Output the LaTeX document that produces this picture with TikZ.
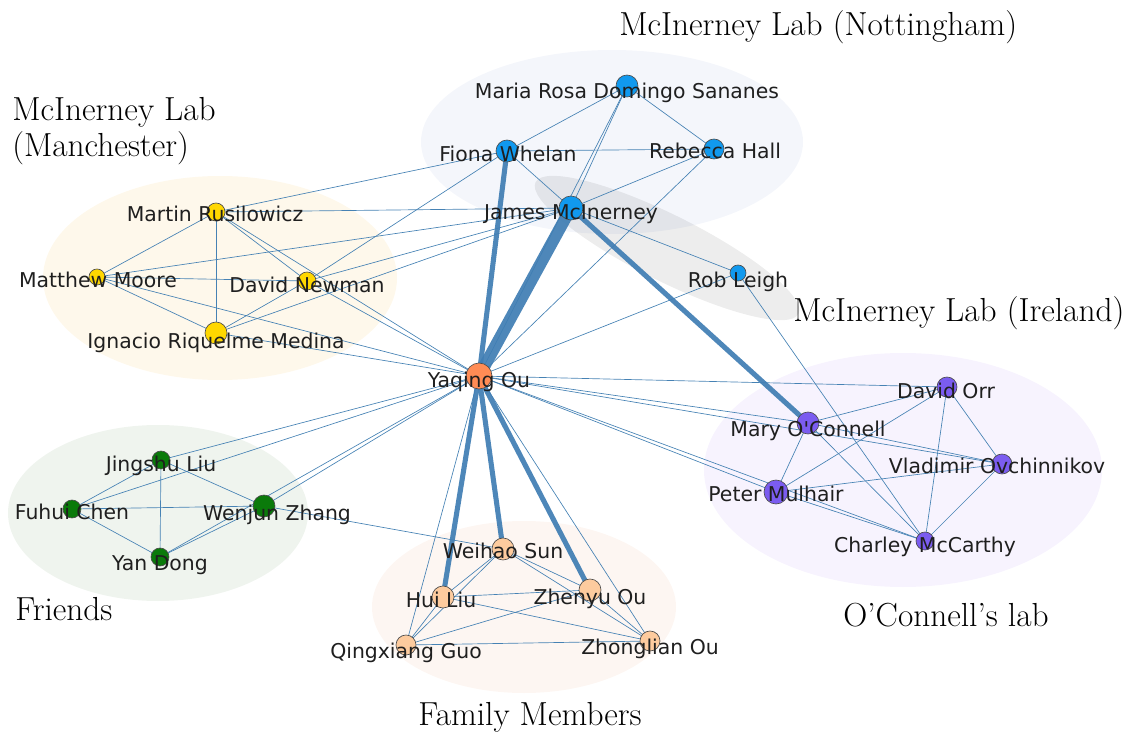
\documentclass[tikz,border=0pt]{standalone}
\usepackage{fontspec}
\newfontfamily\lblfont{DejaVu Sans}
\definecolor{edgec}{HTML}{4682B4}
\definecolor{thickc}{HTML}{3F7DB3}
\definecolor{nblue}{HTML}{1199EE}
\definecolor{nyellow}{HTML}{FFD700}
\definecolor{norange}{HTML}{FF8C55}
\definecolor{ngreen}{HTML}{0A7A0A}
\definecolor{npeach}{HTML}{FDCB9E}
\definecolor{npurple}{HTML}{7B5CF0}
\definecolor{gnott}{HTML}{F4F6FB}
\definecolor{gmanc}{HTML}{FEF8EB}
\definecolor{gfriend}{HTML}{EFF4EE}
\definecolor{gfamily}{HTML}{FDF6F2}
\definecolor{goconn}{HTML}{F7F3FE}
\pgfdeclarelayer{groups}
\pgfdeclarelayer{edges}
\pgfsetlayers{groups,edges,main}
\begin{document}
\begin{tikzpicture}[x=0.75pt,y=-0.75pt,
  vtx/.style={circle,draw=black!70,line width=0.5pt,inner sep=0pt},
  bl/.style={vtx,fill=nblue},
  ye/.style={vtx,fill=nyellow},
  orn/.style={vtx,fill=norange},
  gr/.style={vtx,fill=ngreen},
  pe/.style={vtx,fill=npeach},
  pu/.style={vtx,fill=npurple},
  lab/.style={font=\lblfont\fontsize{15.3}{17}\selectfont,text=black!88,anchor=base,inner sep=0pt},
  grp/.style={font=\fontsize{25}{29}\selectfont,anchor=base west,inner sep=0pt},
  thin edge/.style={draw=edgec,line width=0.5pt},
  thick edge/.style={draw=thickc,line width=#1,opacity=0.92}
]
\useasboundingbox (0,0) rectangle (1143,738);

% group ellipses
\begin{pgfonlayer}{groups}
\fill[gnott] (612,142) ellipse (191 and 92);
\fill[black,opacity=0.07,rotate around={-26.6:(667,248)}] (667,248) ellipse (147 and 33);
\fill[gmanc] (220,278) ellipse (177 and 102);
\fill[gfriend] (158,513) ellipse (150 and 88);
\fill[gfamily] (524,607) ellipse (152 and 86);
\fill[goconn] (903,470) ellipse (199 and 117);
\end{pgfonlayer}

% group labels
\node[grp] (tNott) at (619,36) {McInerney Lab (Nottingham)};
\node[grp] (tManc1) at (12,121) {McInerney Lab};
\node[grp] (tManc2) at (12,157) {(Manchester)};
\node[grp] (tIre) at (793,321) {McInerney Lab (Ireland)};
\node[grp] (tFri) at (15,620) {Friends};
\node[grp,anchor=base] (tOC) at (946,626) {O'Connell's lab};
\node[grp,anchor=base] (tFam) at (530,725) {Family Members};

% vertices
\node[bl,minimum size=16.5pt] (MR) at (627,86) {};
\node[bl,minimum size=16.5pt] (FW) at (507,151) {};
\node[bl,minimum size=15pt] (RH) at (714,149) {};
\node[bl,minimum size=18pt] (JM) at (571,208) {};
\node[bl,minimum size=12pt] (RL) at (738,273) {};
\node[ye,minimum size=13.5pt] (MRu) at (216,212) {};
\node[ye,minimum size=12pt] (MM) at (97,277) {};
\node[ye,minimum size=13.5pt] (DN) at (307,281) {};
\node[ye,minimum size=16.5pt] (IR) at (216,333) {};
\node[orn,minimum size=19.5pt] (YO) at (479,376) {};
\node[pu,minimum size=15pt] (DO) at (947,387) {};
\node[pu,minimum size=16.5pt] (MO) at (808,423) {};
\node[pu,minimum size=15pt] (VO) at (1002,464) {};
\node[pu,minimum size=18pt] (PM) at (776,492) {};
\node[pu,minimum size=13.5pt] (CM) at (925,541) {};
\node[gr,minimum size=13.5pt] (JL) at (161,460) {};
\node[gr,minimum size=13.5pt] (FC) at (72,509) {};
\node[gr,minimum size=16.5pt] (WZ) at (264,506) {};
\node[gr,minimum size=13.5pt] (YD) at (160,557) {};
\node[pe,minimum size=16.5pt] (WS) at (503,549) {};
\node[pe,minimum size=16.5pt] (HL) at (443,597) {};
\node[pe,minimum size=16.5pt] (ZO) at (590,590) {};
\node[pe,minimum size=15pt] (QG) at (406,645) {};
\node[pe,minimum size=15pt] (ZL) at (650,641) {};

% vertex labels
\node[lab] (MRl) at (627,99) {Maria Rosa Domingo Sananes};
\node[lab] (FWl) at (508,162) {Fiona Whelan};
\node[lab] (RHl) at (715,159) {Rebecca Hall};
\node[lab] (JMl) at (571,220) {James McInerney};
\node[lab] (RLl) at (738,287) {Rob Leigh};
\node[lab] (MRul) at (215,222) {Martin Rusilowicz};
\node[lab] (MMl) at (98,287) {Matthew Moore};
\node[lab] (DNl) at (307,292) {David Newman};
\node[lab] (IRl) at (216,348) {Ignacio Riquelme Medina};
\node[lab] (YOl) at (479,387) {Yaqing Ou};
\node[lab] (DOl) at (946,398) {David Orr};
\node[lab] (MOl) at (808,436) {Mary O'Connell};
\node[lab] (VOl) at (997,473) {Vladimir Ovchinnikov};
\node[lab] (PMl) at (776,501) {Peter Mulhair};
\node[lab] (CMl) at (925,552) {Charley McCarthy};
\node[lab] (JLl) at (161,471) {Jingshu Liu};
\node[lab] (FCl) at (72,519) {Fuhui Chen};
\node[lab] (WZl) at (277,520) {Wenjun Zhang};
\node[lab] (YDl) at (160,570) {Yan Dong};
\node[lab] (WSl) at (503,558) {Weihao Sun};
\node[lab] (HLl) at (441,607) {Hui Liu};
\node[lab] (ZOl) at (590,604) {Zhenyu Ou};
\node[lab] (QGl) at (406,658) {Qingxiang Guo};
\node[lab] (ZLl) at (650,654) {Zhonglian Ou};

% edges
\begin{pgfonlayer}{edges}
\foreach \a/\b in {FW/MR, FW/RH, FW/JM, MR/JM, MR/RH, RH/JM, JM/RL, MR/YO, RH/YO, RL/YO, RL/CM,
  MRu/MM, MRu/IR, MRu/DN, MM/DN, MM/IR, DN/IR, MRu/FW, MRu/JM, MRu/YO, MM/JM, MM/YO, DN/JM, DN/FW, DN/YO, IR/JM, IR/YO,
  JL/FC, JL/YD, JL/WZ, FC/WZ, FC/YD, WZ/YD, YD/YO, JL/YO, FC/YO, WZ/YO, WZ/WS,
  WS/HL, WS/ZO, WS/QG, WS/ZL, HL/ZO, HL/QG, HL/ZL, ZO/QG, ZO/ZL, QG/ZL, YO/QG, YO/ZL,
  MO/DO, MO/VO, MO/PM, MO/CM, DO/PM, DO/VO, DO/CM, VO/PM, VO/CM, PM/CM, YO/DO, YO/MO, YO/VO, YO/PM, YO/CM}
  \draw[thin edge] (\a.center) -- (\b.center);
\draw[thick edge=9pt] (YO.center) -- (JM.center);
\draw[thick edge=3.8pt] (YO.center) -- (FW.center);
\draw[thick edge=3.8pt] (JM.center) -- (MO.center);
\draw[thick edge=3.8pt] (YO.center) -- (WS.center);
\draw[thick edge=3.8pt] (YO.center) -- (HL.center);
\draw[thick edge=3.8pt] (YO.center) -- (ZO.center);
\end{pgfonlayer}
\end{tikzpicture}
\end{document}
